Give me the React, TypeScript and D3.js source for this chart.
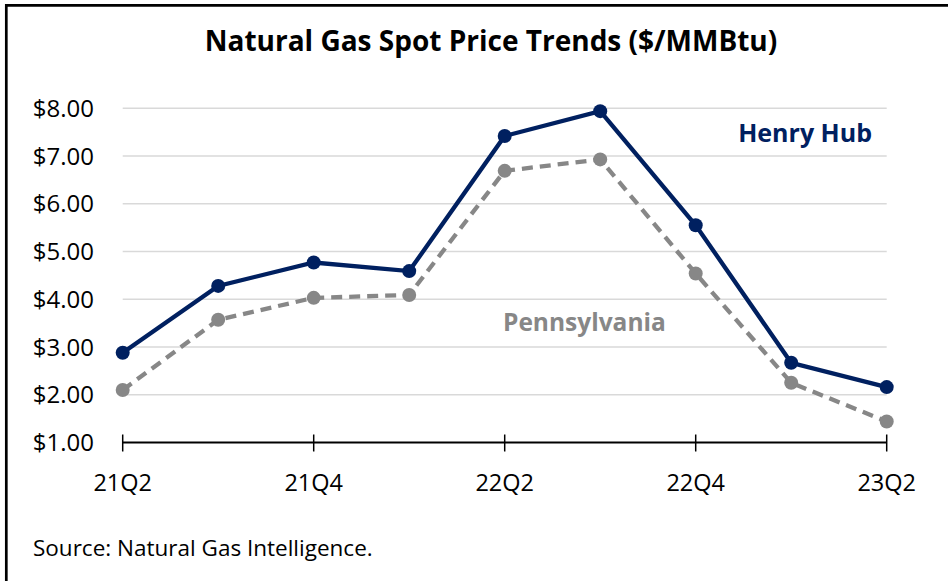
import React, { useEffect, useRef } from 'react';
import * as d3 from 'd3';

const quarters = ['21Q2', '21Q3', '21Q4', '22Q1', '22Q2', '22Q3', '22Q4', '23Q1', '23Q2'];
const labeledQuarters = ['21Q2', '21Q4', '22Q2', '22Q4', '23Q2'];
const henryHub = [2.88, 4.28, 4.77, 4.59, 7.42, 7.94, 5.55, 2.67, 2.16];
const pennsylvania = [2.1, 3.57, 4.03, 4.09, 6.69, 6.93, 4.54, 2.25, 1.44];
const yTicks = [1, 2, 3, 4, 5, 6, 7, 8];

const NAVY = '#002060';
const GREY = '#878787';
const FONT = '"Open Sans", "Noto Sans", sans-serif';

function App() {
  const svgRef = useRef<SVGSVGElement>(null);
  const width = 948;
  const height = 581;

  useEffect(() => {
    if (!svgRef.current) return;
    const svg = d3.select(svgRef.current);
    svg.selectAll('*').remove();

    // Frame (left + top only visible)
    svg.append('path')
      .attr('d', `M6.3,${height + 10} L6.3,5.3 L${width + 10},5.3`)
      .attr('fill', 'none')
      .attr('stroke', '#000')
      .attr('stroke-width', 2.7);

    const xScale = d3.scalePoint<string>()
      .domain(quarters)
      .range([122.7, 886.7]);

    const yScale = d3.scaleLinear()
      .domain([1, 8])
      .range([442.5, 108.3]);

    // Title
    svg.append('text')
      .attr('x', 491)
      .attr('y', 51)
      .attr('text-anchor', 'middle')
      .style('font-family', FONT)
      .style('font-size', '28px')
      .style('font-weight', 'bold')
      .style('fill', '#000')
      .text('Natural Gas Spot Price Trends ($/MMBtu)');

    // Gridlines
    svg.append('g')
      .selectAll('line')
      .data(yTicks.filter(t => t > 1))
      .enter().append('line')
      .attr('x1', xScale.range()[0])
      .attr('x2', xScale.range()[1])
      .attr('y1', d => yScale(d))
      .attr('y2', d => yScale(d))
      .attr('stroke', '#d9d9d9')
      .attr('stroke-width', 1.5);

    // Y labels
    svg.append('g')
      .selectAll('text')
      .data(yTicks)
      .enter().append('text')
      .attr('x', 94)
      .attr('y', d => yScale(d) + 8.5)
      .attr('text-anchor', 'end')
      .style('font-family', FONT)
      .style('font-size', '24px')
      .style('fill', '#000')
      .text(d => d3.format('$.2f')(d));

    // X axis
    const axisG = svg.append('g');
    axisG.append('line')
      .attr('x1', xScale.range()[0])
      .attr('x2', xScale.range()[1])
      .attr('y1', yScale(1))
      .attr('y2', yScale(1))
      .attr('stroke', '#000')
      .attr('stroke-width', 2);
    axisG.selectAll('.tick')
      .data(labeledQuarters)
      .enter().append('line')
      .attr('x1', d => xScale(d)!)
      .attr('x2', d => xScale(d)!)
      .attr('y1', yScale(1) - 8)
      .attr('y2', yScale(1) + 9)
      .attr('stroke', '#000')
      .attr('stroke-width', 1.5);
    axisG.selectAll('.lbl')
      .data(labeledQuarters)
      .enter().append('text')
      .attr('x', d => xScale(d)!)
      .attr('y', 491)
      .attr('text-anchor', 'middle')
      .style('font-family', FONT)
      .style('font-size', '23.5px')
      .style('fill', '#000')
      .text(d => d);

    const line = d3.line<number>()
      .x((_, i) => xScale(quarters[i])!)
      .y(d => yScale(d));

    // Pennsylvania (dashed)
    svg.append('path')
      .datum(pennsylvania)
      .attr('fill', 'none')
      .attr('stroke', GREY)
      .attr('stroke-width', 4.3)
      .attr('stroke-dasharray', '11,7')
      .attr('d', line);
    svg.append('g')
      .selectAll('circle')
      .data(pennsylvania)
      .enter().append('circle')
      .attr('cx', (_, i) => xScale(quarters[i])!)
      .attr('cy', d => yScale(d))
      .attr('r', 7)
      .attr('fill', GREY);

    // Henry Hub
    svg.append('path')
      .datum(henryHub)
      .attr('fill', 'none')
      .attr('stroke', NAVY)
      .attr('stroke-width', 4.3)
      .attr('d', line);
    svg.append('g')
      .selectAll('circle')
      .data(henryHub)
      .enter().append('circle')
      .attr('cx', (_, i) => xScale(quarters[i])!)
      .attr('cy', d => yScale(d))
      .attr('r', 7)
      .attr('fill', NAVY);

    // Series labels
    svg.append('text')
      .attr('x', 872)
      .attr('y', 142)
      .attr('text-anchor', 'end')
      .style('font-family', FONT)
      .style('font-size', '25px')
      .style('font-weight', 'bold')
      .style('fill', NAVY)
      .text('Henry Hub');

    svg.append('text')
      .attr('x', 503)
      .attr('y', 331)
      .style('font-family', FONT)
      .style('font-size', '24.5px')
      .style('font-weight', 'bold')
      .style('fill', GREY)
      .text('Pennsylvania');

    // Source
    svg.append('text')
      .attr('x', 33)
      .attr('y', 556)
      .style('font-family', FONT)
      .style('font-size', '22.5px')
      .style('fill', '#000')
      .text('Source: Natural Gas Intelligence.');
  }, []);

  return (
    <svg
      ref={svgRef}
      width={width}
      height={height}
      style={{ position: 'absolute', left: 0, top: 0, background: '#fff' }}
    ></svg>
  );
}

export default App;
